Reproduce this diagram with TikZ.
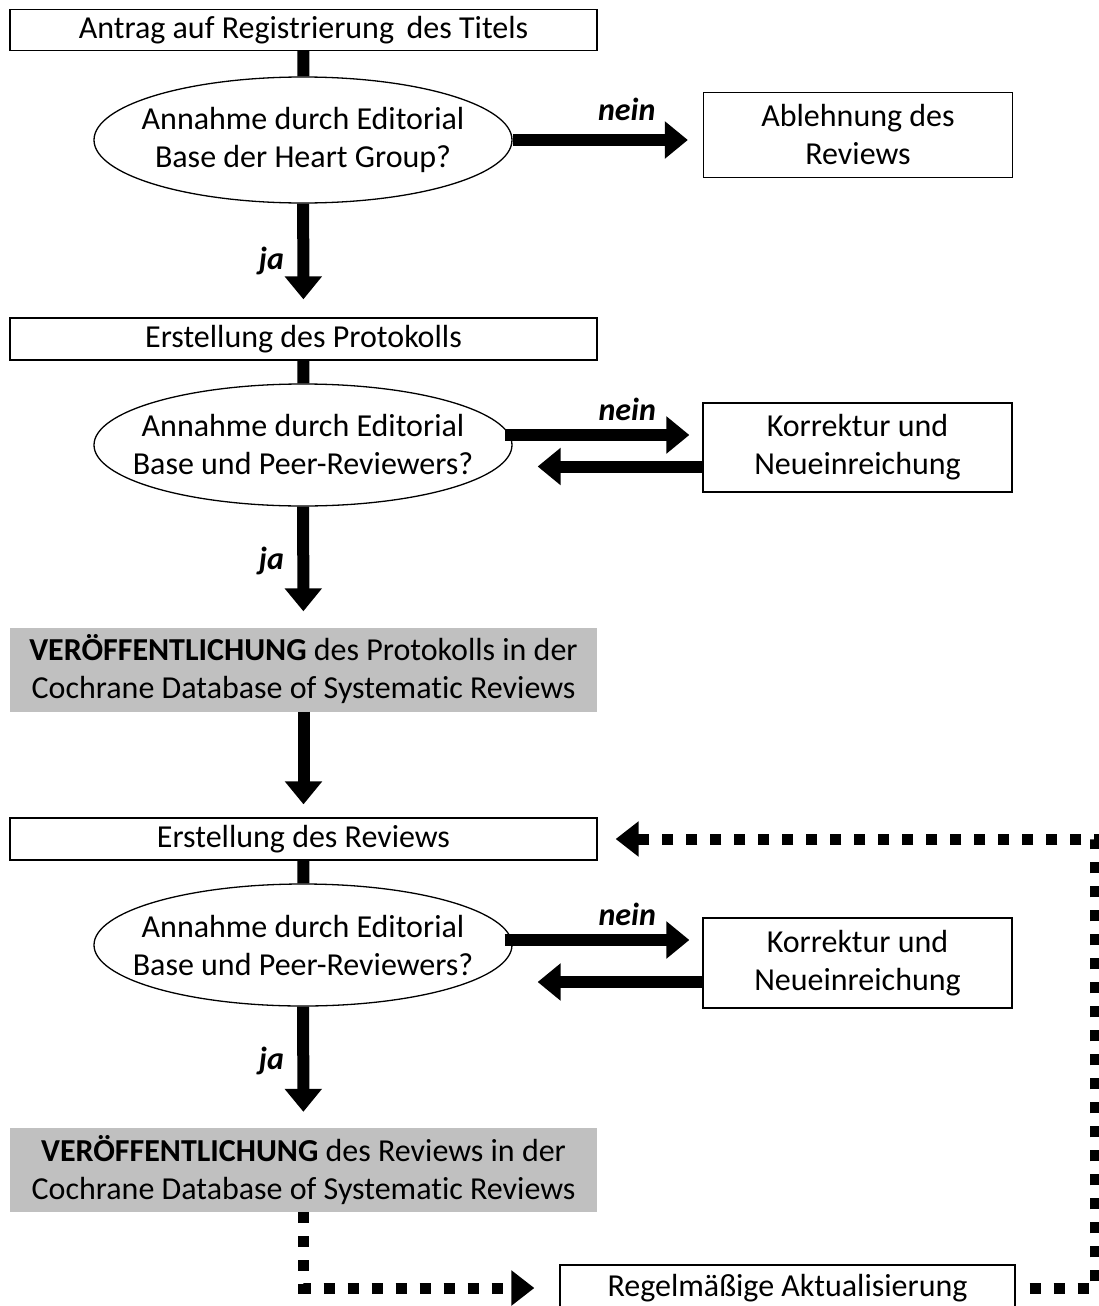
\documentclass[tikz,border=0pt]{standalone}
\usepackage{fontspec}
\setmainfont{Carlito}[Ligatures=NoCommon]
\usetikzlibrary{shapes.geometric,arrows.meta}
\definecolor{grau}{RGB}{192,192,192}
\newcommand{\schrift}{\fontsize{32}{38}\selectfont}
\tikzset{
    kasten/.style={draw,line width=1.3pt,minimum width=587pt,inner sep=0pt,align=center},
    seitenkasten/.style={draw,line width=1.3pt,minimum width=309pt,inner sep=0pt,align=center},
    frage/.style={draw,ellipse,line width=1.3pt,minimum width=418pt,inner sep=0pt},
    fragetext/.style={align=center,font=\schrift},
    grauerkasten/.style={fill=grau,minimum width=587pt,minimum height=84pt,inner sep=0pt,align=center},
    balken/.style={line width=12pt},
    pfeil/.style={line width=12pt,-{Triangle[length=23pt,width=36pt]}},
    punkte/.style={line width=11pt,dash pattern=on 11pt off 13pt,-{Triangle[length=23pt,width=34pt]}},
    wahl/.style={font=\schrift\bfseries\itshape}
}
\begin{document}
\begin{tikzpicture}[x=1pt,y=-1pt,font=\schrift]
        \useasboundingbox (0,0) rectangle (1099,1306);

        % Titel
        \node[kasten,minimum height=41pt] (titel) at (303.5,30) {Antrag auf Registrierung\, des Titels};
        \node[frage,minimum height=126pt,label={[fragetext]center:Annahme durch Editorial\\Base der Heart Group?}] (frage1) at (303,140) {};
        \node[seitenkasten,minimum height=85pt] (ablehnung) at (858,135) {Ablehnung des\\Reviews};

        % Protokoll
        \node[kasten,minimum height=42pt] (protokoll) at (303.5,339) {Erstellung des Protokolls};
        \node[frage,minimum height=122pt,label={[fragetext]center:Annahme durch Editorial\\Base und Peer-Reviewers?}] (frage2) at (303,445) {};
        \node[seitenkasten,minimum height=89pt] (korrektur1) at (857.5,447.5) {Korrektur und\\Neueinreichung};
        \node[grauerkasten] (veroeff1) at (303.5,669.5) {\textbf{VERÖFFENTLICHUNG} des Protokolls in der\\Cochrane Database of Systematic Reviews};

        % Review
        \node[kasten,minimum height=42pt] (review) at (303.5,839) {Erstellung des Reviews};
        \node[frage,minimum height=122pt,label={[fragetext]center:Annahme durch Editorial\\Base und Peer-Reviewers?}] (frage3) at (303,945) {};
        \node[seitenkasten,minimum height=90pt] (korrektur2) at (857.5,963) {Korrektur und\\Neueinreichung};
        \node[grauerkasten] (veroeff2) at (303.5,1170) {\textbf{VERÖFFENTLICHUNG} des Reviews in der\\Cochrane Database of Systematic Reviews};

        % Aktualisierung (unten abgeschnitten)
        \node[draw,line width=1.3pt,minimum width=455pt,minimum height=46pt,inner sep=0pt] (aktual) at (787.5,1288) {Regelmäßige Aktualisierung};

        % Verbindungen oben
        \draw[balken] (titel) -- (frage1);
        \draw[pfeil,shorten >=15pt] (frage1.east) -- (frage1.east -| ablehnung.west) node[wahl,above=10pt,pos=0.6] {nein};
        \draw[pfeil,shorten >=18pt] (frage1) -- (protokoll) node[wahl,left,pos=0.5,xshift=-10pt] {ja};

        \draw[balken] (protokoll) -- (frage2);
        \coordinate (hin2) at ([xshift=-8pt,yshift=10pt]frage2.east);
        \coordinate (zurueck2) at ([yshift=-19pt]korrektur1.west);
        \draw[pfeil,shorten >=13pt] (hin2) -- (hin2 -| korrektur1.west) node[wahl,above=5pt,pos=0.62] {nein};
        \draw[pfeil,shorten >=25pt] (zurueck2) -- (zurueck2 -| frage2.east);
        \draw[pfeil,shorten >=16pt] (frage2) -- (veroeff1) node[wahl,left,pos=0.45,xshift=-10pt] {ja};
        \draw[pfeil,shorten >=13pt] (veroeff1) -- (review);

        \draw[balken] (review) -- (frage3);
        \coordinate (hin3) at ([xshift=-8pt,yshift=5pt]frage3.east);
        \coordinate (zurueck3) at ([yshift=-19pt]korrektur2.west);
        \draw[pfeil,shorten >=13pt] (hin3) -- (hin3 -| korrektur2.west) node[wahl,above=5pt,pos=0.62] {nein};
        \draw[pfeil,shorten >=25pt] (zurueck3) -- (zurueck3 -| frage3.east);
        \draw[pfeil,shorten >=16pt] (frage3) -- (veroeff2) node[wahl,left,pos=0.45,xshift=-10pt] {ja};

        % Schleife
        \coordinate (ecke) at (1095,839);
        \draw[punkte,shorten >=25pt] (veroeff2.south) |- (aktual.west);
        \draw[punkte,shorten >=18pt] ([xshift=14pt]aktual.east) -| (ecke) -- (review.east);
    \end{tikzpicture}
\end{document}
